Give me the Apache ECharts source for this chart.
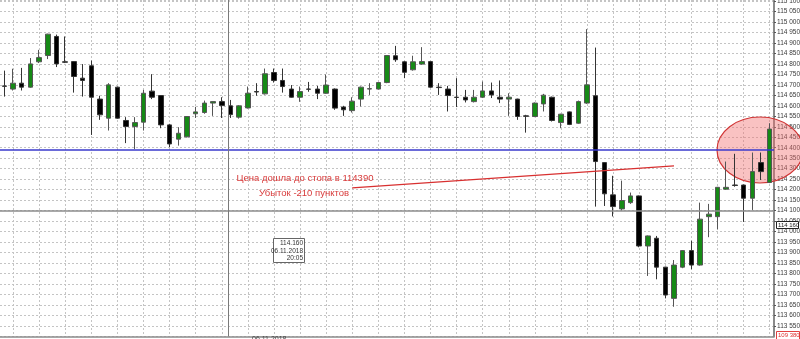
<!DOCTYPE html>
<html>
<head>
<meta charset="utf-8">
<script src="https://cdn.jsdelivr.net/npm/echarts@6/dist/echarts.min.js"></script>
<style>
html,body{margin:0;padding:0;background:#fff;}
#c{width:800px;height:339px;}
</style>
</head>
<body>
<div id="c"></div>
<script>
// OHLC (89 candles)
const opens  = [114695,114680,114708,114689,114810,114840,114931,114810,114811,114732,
                114791,114632,114541,114689,114530,114501,114522,114670,114649,114509,
                114441,114452,114562,114568,114613,114620,114600,114546,114590,114668,
                114657,114759,114721,114680,114641,114680,114680,114660,114680,114594,
                114577,114632,114680,114680,114711,114839,114810,114772,114799,114811,
                114689,114680,114641,114641,114620,114641,114671,114641,114632,114632,
                114552,114549,114609,114641,114520,114571,114517,114613,114648,114329,
                114175,114108,114138,114170,113931,113968,113830,113681,113830,113909,
                113840,114071,114071,114202,114222,114222,114159,114329,114234];
const closes = [114693,114708,114689,114800,114830,114942,114800,114808,114740,114721,
                114641,114557,114700,114541,114501,114520,114660,114641,114509,114418,
                114469,114549,114571,114613,114620,114601,114558,114600,114660,114666,
                114753,114721,114692,114641,114668,114679,114660,114699,114589,114581,
                114622,114689,114682,114711,114840,114820,114760,114810,114811,114689,
                114687,114649,114640,114628,114641,114671,114652,114632,114641,114549,
                114550,114613,114651,114530,114560,114511,114620,114700,114334,114180,
                114119,114148,114170,113931,113979,113830,113697,113840,113909,113840,
                114059,114083,114211,114211,114220,114159,114286,114286,114489];
const lows   = [114644,114673,114673,114686,114804,114823,114785,114804,114663,114644,
                114461,114533,114482,114538,114422,114393,114482,114632,114493,114403,
                114410,114449,114542,114562,114552,114542,114542,114539,114587,114648,
                114654,114711,114663,114639,114619,114667,114632,114657,114581,114552,
                114568,114597,114652,114678,114708,114810,114732,114768,114796,114686,
                114652,114573,114594,114616,114616,114637,114637,114613,114552,114533,
                114472,114546,114573,114525,114493,114508,114514,114609,114119,114122,
                114072,114100,114132,113925,113788,113772,113681,113641,113825,113820,
                113837,113973,114011,114199,114214,114046,114103,114246,114231];
const highs  = [114768,114777,114781,114828,114867,114944,114940,114931,114813,114799,
                114816,114648,114708,114692,114546,114546,114676,114751,114651,114514,
                114498,114551,114595,114625,114621,114641,114628,114603,114692,114708,
                114778,114778,114778,114699,114692,114714,114695,114749,114683,114600,
                114641,114692,114708,114713,114842,114886,114814,114839,114880,114814,
                114708,114695,114732,114676,114676,114716,114711,114721,114660,114634,
                114557,114616,114657,114644,114562,114573,114625,114966,114878,114331,
                114266,114243,114186,114172,113981,113979,113832,113864,113911,113956,
                114138,114132,114213,114334,114371,114224,114377,114377,114517];

const categories = opens.map((_, i) => String(i + 1));
const stopPrice = 114390;          // blue stop line
const crossPrice = 114100;         // horizontal crosshair
const crossIndex = 25.77;          // vertical crosshair position (candle index)
const trendStart = [40, 114208];   // red trend line
const trendEnd   = [77, 114313];
const yMin = 113500, yMax = 115105, yStep = 50;

const candleData = opens.map((o, i) => [o, closes[i], lows[i], highs[i]]);
const fmt = v => { const s = String(Math.round(v)); return s.slice(0, 3) + ' ' + s.slice(3); };

const FONT = 'Liberation Sans, Arial, sans-serif';

const chart = echarts.init(document.getElementById('c'), null, { renderer: 'canvas' });
chart.setOption({
  animation: false,
  backgroundColor: '#ffffff',
  grid: [
    { left: 0, right: 26, top: 0, bottom: 2.7, containLabel: false, outerBoundsMode: 'none' },
    { left: 13.05, right: 26, top: 0, bottom: 2.7, containLabel: false, outerBoundsMode: 'none' }
  ],
  xAxis: [
    {
      type: 'category', gridIndex: 0, data: categories, boundaryGap: true,
      axisLine: { show: true, lineStyle: { color: '#8a8a8a', width: 1.5 } },
      axisTick: { show: false }, axisLabel: { show: false }, splitLine: { show: false }
    },
    {
      type: 'value', gridIndex: 1, min: 1, max: 88.5, interval: 3,
      axisLine: { show: false }, axisTick: { show: false }, axisLabel: { show: false },
      splitLine: { show: true, lineStyle: { color: '#c4c4c4', type: [2, 2], width: 1 } }
    }
  ],
  yAxis: [
    {
      type: 'value', gridIndex: 0, position: 'right', min: yMin, max: yMax, interval: yStep,
      axisLine: { show: true, lineStyle: { color: '#8a8a8a', width: 2 } },
      axisTick: { show: true, length: 2, lineStyle: { color: '#555' } },
      axisLabel: { show: true, margin: 3, fontSize: 6.5, color: '#3a3a3a', fontFamily: FONT,
                   showMinLabel: false, showMaxLabel: false, formatter: fmt },
      splitLine: { show: true, lineStyle: { color: '#c4c4c4', type: [2, 2], width: 1 } }
    },
    {
      type: 'value', gridIndex: 1, min: yMin, max: yMax, show: false,
      splitLine: { show: false }
    }
  ],
  series: [
    {
      type: 'candlestick', xAxisIndex: 0, yAxisIndex: 0, data: candleData,
      barWidth: 5, z: 3,
      itemStyle: { color: '#168a16', color0: '#000000', borderColor: '#555555', borderColor0: '#333333', borderWidth: 1 },
      markLine: {
        silent: true, symbol: ['none', 'none'], label: { show: false }, animation: false,
        data: [
          { yAxis: stopPrice, lineStyle: { color: '#3a3acc', width: 1.5, type: 'solid' } },
          { yAxis: crossPrice, lineStyle: { color: '#8c8c8c', width: 1.5, type: 'solid' } }
        ]
      }
    },
    {
      type: 'line', xAxisIndex: 1, yAxisIndex: 1, symbol: 'none', z: 4,
      data: [trendStart, trendEnd],
      lineStyle: { color: '#d83030', width: 1.2 },
      markLine: {
        silent: true, symbol: ['none', 'none'], label: { show: false }, animation: false,
        data: [{ xAxis: crossIndex, lineStyle: { color: '#7a7a7a', width: 1, type: 'solid' } }]
      }
    }
  ],
  graphic: [
    { type: 'ellipse', z: 1, shape: { cx: 760, cy: 150, rx: 43, ry: 33 },
      style: { fill: 'rgba(240,110,110,0.42)', stroke: '#d03535', lineWidth: 1.2 } },
    { type: 'text', z: 10, x: 305, y: 173, style: { text: 'Цена дошла до стопа в 114390', fill: '#d83a3a', font: '9.5px ' + FONT, textAlign: 'center' } },
    { type: 'text', z: 10, x: 304, y: 188, style: { text: 'Убыток -210 пунктов', fill: '#d83a3a', font: '9.5px ' + FONT, textAlign: 'center' } },
    { type: 'rect', z: 10, shape: { x: 273.5, y: 238.5, width: 31, height: 24 }, style: { fill: '#fff', stroke: '#666', lineWidth: 1 } },
    { type: 'text', z: 11, x: 303, y: 240, style: { text: '114.160', fill: '#333', font: '6.5px ' + FONT, textAlign: 'right' } },
    { type: 'text', z: 11, x: 303, y: 247.5, style: { text: '06.11.2018', fill: '#333', font: '6.5px ' + FONT, textAlign: 'right' } },
    { type: 'text', z: 11, x: 303, y: 255, style: { text: '20:05', fill: '#333', font: '6.5px ' + FONT, textAlign: 'right' } },
    { type: 'rect', z: 10, shape: { x: 776.5, y: 221.5, width: 22, height: 7 }, style: { fill: '#fff', stroke: '#222', lineWidth: 1 } },
    { type: 'text', z: 11, x: 778, y: 222, style: { text: '114 160', fill: '#222', font: '6px ' + FONT } },
    { type: 'rect', z: 10, shape: { x: 776.5, y: 331.5, width: 23, height: 8 }, style: { fill: '#fff', stroke: '#e04040', lineWidth: 1 } },
    { type: 'text', z: 11, x: 778, y: 332.5, style: { text: '109 380', fill: '#e03030', font: '6px ' + FONT } },
    { type: 'text', z: 11, x: 252, y: 335.5, style: { text: '06.11.2018', fill: '#444', font: '7px ' + FONT } }
  ]
});
</script>
</body>
</html>
